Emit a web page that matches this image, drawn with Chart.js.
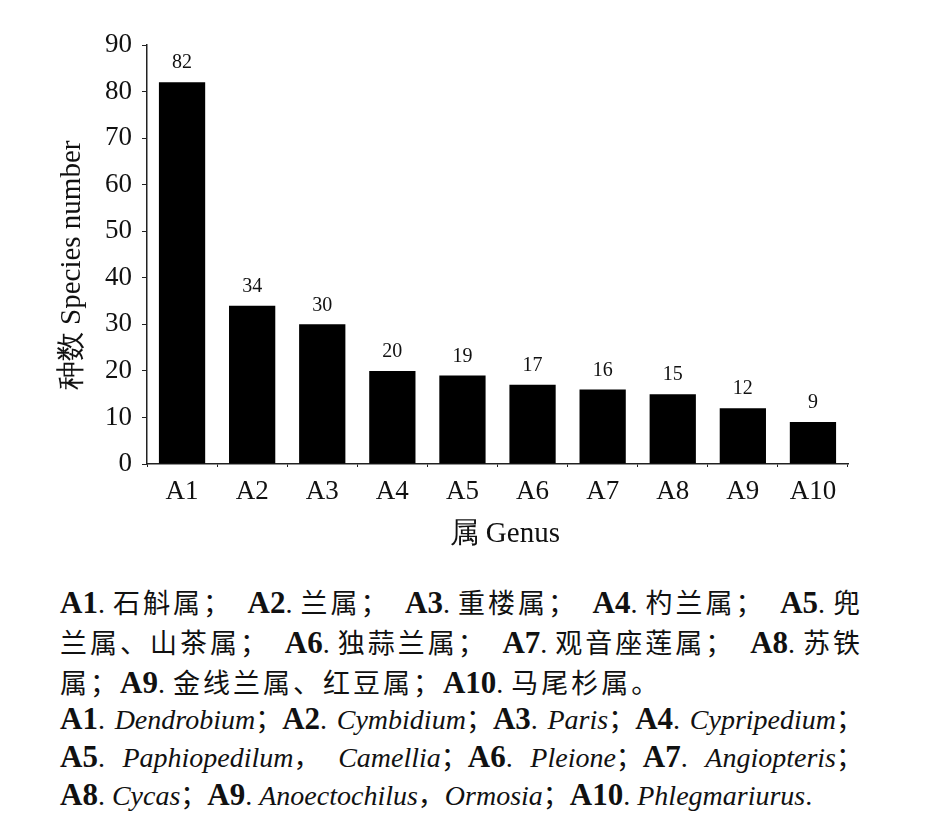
<!DOCTYPE html>
<html>
<head>
<meta charset="utf-8">
<script src="https://cdn.jsdelivr.net/npm/chart.js@4.4.1/dist/chart.umd.min.js"></script>
<style>
  body { margin: 0; background: #fff; width: 929px; height: 826px; overflow: hidden; }
  #wrap { position: absolute; left: 0; top: 0; width: 929px; height: 560px; }
  #caption {
    position: absolute; left: 60px; top: 583px; width: 803px;
    font-family: "Liberation Serif", "Noto Sans CJK SC", serif;
    font-size: 28px; color: #111;
  }
  #caption .line { text-align: justify; text-align-last: justify; white-space: nowrap; }
  #caption .last { text-align-last: left; }
  #caption .zh { line-height: 40px; height: 40px; }
  #caption .en { line-height: 38px; height: 38px; }
  #caption .en.first { margin-top: -3px; }
  #caption .k { display: inline-block; font-size: 27px; }
  #caption .zh .k { margin-left: 8px; letter-spacing: 3px; }
  #caption .zh .k.s { margin-left: 0; }
  #caption b { font-weight: bold; font-size: 31px; font-family: "Liberation Serif", serif; }
  #caption i { font-style: italic; font-family: "Liberation Serif", serif; }
</style>
</head>
<body>
<div id="wrap"><canvas id="genus-chart"></canvas></div>
<div id="caption">
  <div class="line zh"><b>A1</b>.<span class="k">石斛属；</span> <b>A2</b>.<span class="k">兰属；</span> <b>A3</b>.<span class="k">重楼属；</span> <b>A4</b>.<span class="k">杓兰属；</span> <b>A5</b>.<span class="k">兜</span></div>
  <div class="line zh"><span class="k s">兰属、山茶属；</span> <b>A6</b>.<span class="k">独蒜兰属；</span> <b>A7</b>.<span class="k">观音座莲属；</span> <b>A8</b>.<span class="k">苏铁</span></div>
  <div class="line zh last"><span class="k s">属；</span><b>A9</b>.<span class="k">金线兰属、红豆属；</span><b>A10</b>.<span class="k">马尾杉属。</span></div>
  <div class="line en first"><b>A1</b>. <i>Dendrobium</i><span class="k">；</span><b>A2</b>. <i>Cymbidium</i><span class="k">；</span><b>A3</b>. <i>Paris</i><span class="k">；</span><b>A4</b>. <i>Cypripedium</i><span class="k">；</span></div>
  <div class="line en"><b>A5</b>. <i>Paphiopedilum</i><span class="k">，</span> <i>Camellia</i><span class="k">；</span><b>A6</b>. <i>Pleione</i><span class="k">；</span><b>A7</b>. <i>Angiopteris</i><span class="k">；</span></div>
  <div class="line en last"><b>A8</b>. <i>Cycas</i><span class="k">；</span><b>A9</b>. <i>Anoectochilus</i><span class="k">，</span><i>Ormosia</i><span class="k">；</span><b>A10</b>. <i>Phlegmariurus</i>.</div>
</div>
<script>
// Genus codes and species counts
const genusLabels = ["A1", "A2", "A3", "A4", "A5", "A6", "A7", "A8", "A9", "A10"];
const speciesCounts = [82, 34, 30, 20, 19, 17, 16, 15, 12, 9];
const yMin = 0;
const yMax = 90;
const yStep = 10;

const serif = "'Liberation Serif', 'Times New Roman', serif";
const nb = "\u00A0";

// Draw the value above each bar
const barValues = {
    id: "barValues",
    afterDatasetsDraw(chart) {
        const ctx = chart.ctx;
        const meta = chart.getDatasetMeta(0);
        ctx.save();
        ctx.font = "20px " + serif;
        ctx.fillStyle = "#111";
        ctx.textAlign = "center";
        ctx.textBaseline = "bottom";
        meta.data.forEach(function (bar, i) {
            ctx.fillText(String(speciesCounts[i]), bar.x, bar.y - 9);
        });
        ctx.restore();
    },
};

new Chart(document.getElementById("genus-chart"), {
    type: "bar",
    data: {
        labels: genusLabels,
        datasets: [
            {
                data: speciesCounts,
                backgroundColor: "#000",
                borderWidth: 0,
                barPercentage: 0.66,
                categoryPercentage: 1,
            },
        ],
    },
    options: {
        responsive: true,
        maintainAspectRatio: false,
        animation: false,
        layout: { padding: { left: 53, top: 45, right: 81, bottom: 0 } },
        plugins: { legend: { display: false }, tooltip: { enabled: false } },
        scales: {
            x: {
                offset: true,
                grid: { offset: true, drawOnChartArea: false, drawTicks: true, tickLength: 3, color: "#222" },
                border: { color: "#222", width: 1.5 },
                ticks: { color: "#111", font: { family: serif, size: 27 }, padding: 9 },
                title: {
                    display: true,
                    text: nb + nb + "属 Genus",
                    color: "#111",
                    font: { family: serif, size: 29 },
                    padding: { top: 0, bottom: 8 },
                },
                afterFit(scale) { scale.height = 96; },
            },
            y: {
                min: yMin,
                max: yMax,
                ticks: { stepSize: yStep, color: "#111", font: { family: serif, size: 27 }, padding: 10 },
                grid: { drawOnChartArea: false, drawTicks: true, tickLength: 5, color: "#222" },
                border: { color: "#222", width: 1.5 },
                title: {
                    display: true,
                    text: "种数 Species number" + nb + nb + nb,
                    color: "#111",
                    font: { family: serif, size: 29 },
                    padding: { top: 2, bottom: 0 },
                },
                afterFit(scale) { scale.width = 94; },
            },
        },
    },
    plugins: [barValues],
});
</script>
</body>
</html>
